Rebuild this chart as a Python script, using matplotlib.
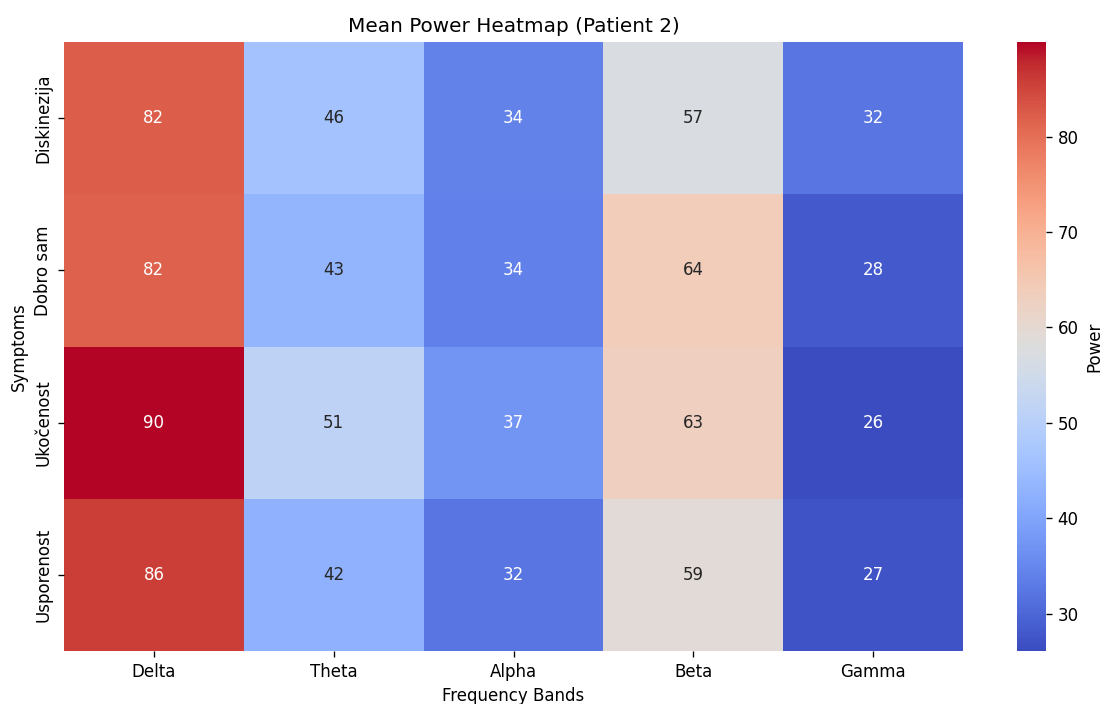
import numpy as np
import pandas as pd
import seaborn as sns
import matplotlib.pyplot as plt

# mean power per symptom and band
symptoms = ["Diskinezija", "Dobro sam", "Ukočenost", "Usporenost"]
bands = ["Delta", "Theta", "Alpha", "Beta", "Gamma"]
delta = [82.2, 81.9, 89.9, 85.8]
theta = [46.2, 43.1, 51.2, 42.3]
alpha = [34.2, 33.9, 37.2, 32.1]
beta = [57.1, 63.8, 63.2, 59.2]
gamma = [32.3, 28.1, 26.1, 27.2]

df = pd.DataFrame({"Delta": delta, "Theta": theta, "Alpha": alpha,
                   "Beta": beta, "Gamma": gamma}, index=symptoms)

fig = plt.figure(figsize=(1106 / 120, 704 / 120), dpi=120)
ax = fig.add_axes([0.0579, 0.0753, 0.8128, 0.865])
cax = fig.add_axes([0.9195, 0.0753, 0.0263, 0.865])

sns.heatmap(df, annot=True, fmt=".0f", cmap="coolwarm", ax=ax, cbar_ax=cax,
            cbar_kws={"label": "Power"})
ax.set_title("Mean Power Heatmap (Patient 2)")
ax.set_xlabel("Frequency Bands")
ax.set_ylabel("Symptoms")

plt.savefig("out.png", dpi=120)
